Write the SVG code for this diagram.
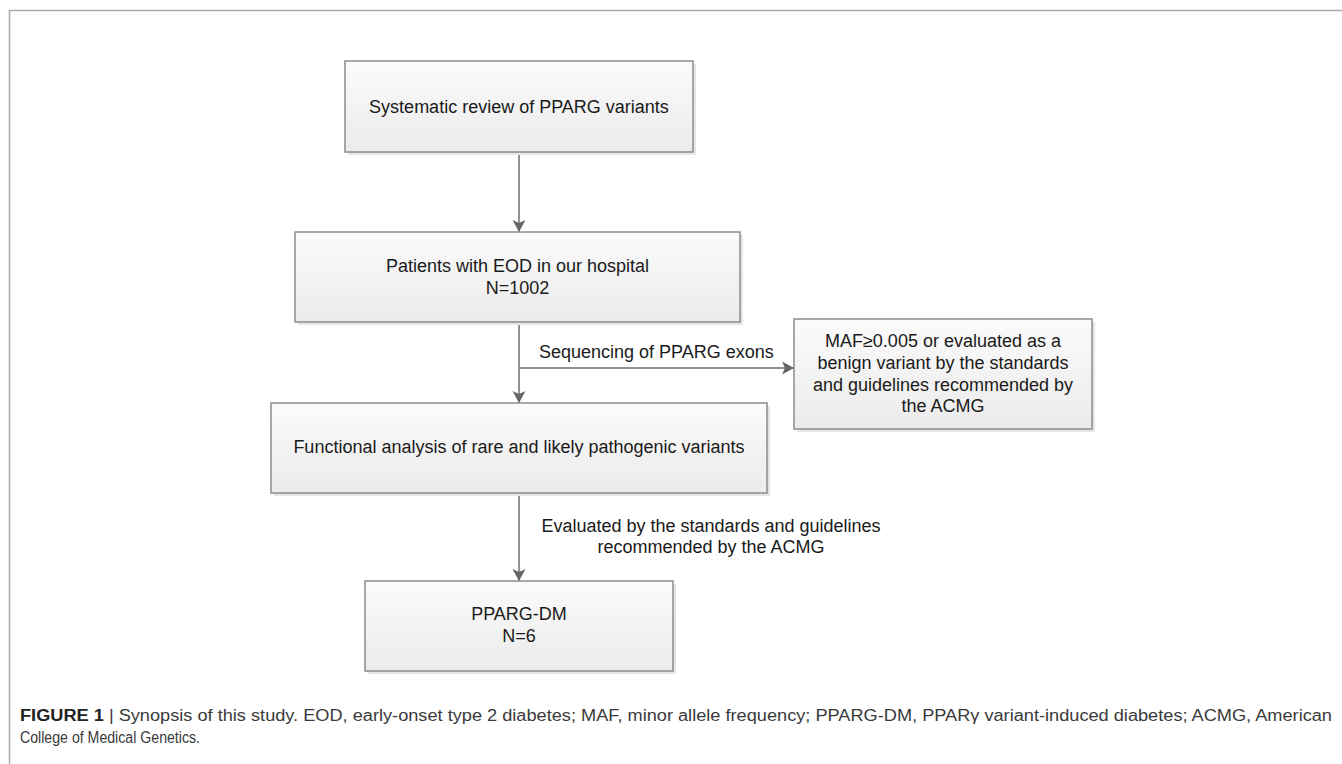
<svg xmlns="http://www.w3.org/2000/svg" width="1342" height="764" viewBox="0 0 1342 764">
<defs>
<linearGradient id="boxfill" x1="0" y1="0" x2="0" y2="1">
<stop offset="0" stop-color="#fbfbfb"/>
<stop offset="1" stop-color="#ebebeb"/>
</linearGradient>
<marker id="arrow" markerUnits="userSpaceOnUse" markerWidth="14" markerHeight="14" refX="12" refY="6.5" orient="auto">
<path d="M0,0 L12,6.5 L0,13 L3,6.5 Z" fill="#666"/>
</marker>
</defs>
<style>
.box{fill:url(#boxfill);stroke:#8c8c8c;stroke-width:1.5}
.shadow{fill:#e6e6e6}
.t{font-family:"Liberation Sans",Arial,sans-serif;font-size:18px;fill:#1a1a1a}
.c{text-anchor:middle}
.edge{stroke:#6e6e6e;stroke-width:1.5;fill:none;marker-end:url(#arrow)}
.cap{font-family:"Liberation Sans",Arial,sans-serif;font-size:16px;fill:#3a3a3a}
</style>
<rect width="1342" height="764" fill="#fff"/>
<path d="M9.5,764 V10.5 H1342" fill="none" stroke="#aaa" stroke-width="1.5"/>
<g id="connectors">
<path class="edge" d="M519,152 V232"/>
<path class="edge" d="M519,322 V403"/>
<path class="edge" d="M519,368 H794"/>
<path class="edge" d="M519,493 V581"/>
<text class="t" x="539" y="358">Sequencing of PPARG exons</text>
<text class="t c" x="711" y="532">Evaluated by the standards and guidelines</text>
<text class="t c" x="711" y="553">recommended by the ACMG</text>
</g>
<g id="node-review">
<rect class="shadow" x="348" y="64" width="348" height="91"/>
<rect class="box" x="345" y="61" width="348" height="91"/>
<text class="t c" x="519" y="113">Systematic review of PPARG variants</text>
</g>
<g id="node-patients">
<rect class="shadow" x="298" y="235" width="445" height="90"/>
<rect class="box" x="295" y="232" width="445" height="90"/>
<text class="t c" x="517.5" y="272">Patients with EOD in our hospital</text>
<text class="t c" x="517.5" y="294">N=1002</text>
</g>
<g id="node-excluded">
<rect class="shadow" x="797" y="322" width="298" height="110"/>
<rect class="box" x="794" y="319" width="298" height="110"/>
<text class="t c" x="943" y="347">MAF≥0.005 or evaluated as a</text>
<text class="t c" x="943" y="369">benign variant by the standards</text>
<text class="t c" x="943" y="391">and guidelines recommended by</text>
<text class="t c" x="943" y="412">the ACMG</text>
</g>
<g id="node-functional">
<rect class="shadow" x="274" y="406" width="496" height="90"/>
<rect class="box" x="271" y="403" width="496" height="90"/>
<text class="t c" x="519" y="453">Functional analysis of rare and likely pathogenic variants</text>
</g>
<g id="node-pparg-dm">
<rect class="shadow" x="368" y="584" width="308" height="90"/>
<rect class="box" x="365" y="581" width="308" height="90"/>
<text class="t c" x="519" y="620">PPARG-DM</text>
<text class="t c" x="519" y="642">N=6</text>
</g>
<g id="caption">
<text class="cap" x="20" y="721" textLength="1312" lengthAdjust="spacingAndGlyphs"><tspan font-weight="bold" fill="#222">FIGURE 1</tspan> | Synopsis of this study. EOD, early-onset type 2 diabetes; MAF, minor allele frequency; PPARG-DM, PPARγ variant-induced diabetes; ACMG, American</text>
<text class="cap" x="20" y="743" textLength="180" lengthAdjust="spacingAndGlyphs">College of Medical Genetics.</text>
</g>
</svg>
